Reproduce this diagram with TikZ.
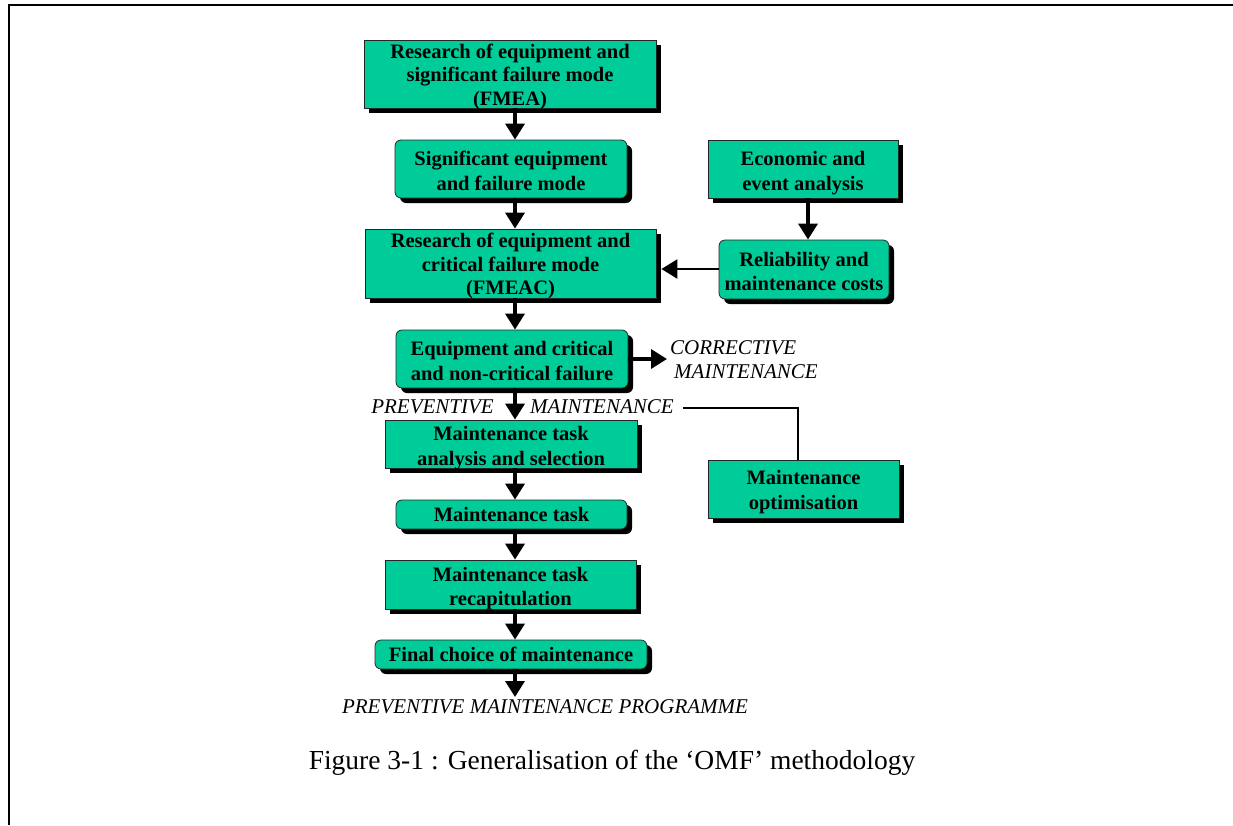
\documentclass[tikz,border=0pt]{standalone}
\usepackage{fontspec}
\setmainfont{Liberation Serif}
\usetikzlibrary{arrows.meta,shadows,calc}
\definecolor{boxgreen}{RGB}{0,204,153}
% centred block of lines, set slightly below the middle of its box
\newcommand\boxtext[2][9.1pt]{\raisebox{-#1}[0pt][0pt]{\begin{tabular}{@{}c@{}}#2\end{tabular}}}

\begin{document}
\begin{tikzpicture}[x=1pt,y=-1pt,
  box/.style={draw=black!85, line width=0.8pt, fill=boxgreen, inner sep=0pt,
     font=\fontsize{20.5}{24.5}\selectfont\bfseries,
     drop shadow={shadow xshift=5pt, shadow yshift=-5pt, fill=black, opacity=1}},
  rbox/.style={box, rounded corners=6pt},
  tribox/.style={box, font=\fontsize{20.5}{23.5}\selectfont\bfseries},
  arr/.style={line width=3.5pt, -{Triangle[width=19pt,length=16pt]}},
  lab/.style={font=\fontsize{21}{24}\selectfont\itshape, inner sep=0pt},
  conn/.style={line width=2.5pt},
  frameline/.style={line width=2pt}]
\useasboundingbox (0,0) rectangle (1233,825);

% page frame (top and left rules)
\draw[frameline] (1233,5) -- (9,5) -- (9,825);

% main chain
\node[tribox, minimum width=292pt, minimum height=68pt] (fmea)  at (510,74)     {\boxtext[8.3pt]{Research of equipment and\\significant failure mode\\(FMEA)}};
\node[rbox,   minimum width=232pt, minimum height=58pt] (sig)   at (511,169)    {\boxtext{Significant equipment\\and failure mode}};
\node[tribox, minimum width=291pt, minimum height=69pt] (fmeac) at (510.5,263.5) {\boxtext[8.3pt]{Research of equipment and\\critical failure mode\\(FMEAC)}};
\node[rbox,   minimum width=232pt, minimum height=58pt] (equip) at (512,359)    {\boxtext{Equipment and critical\\and non-critical failure}};
\node[box,    minimum width=252pt, minimum height=48pt] (mtas)  at (511,444)    {\boxtext{Maintenance task\\analysis and selection}};
\node[rbox,   minimum width=231pt, minimum height=29pt] (mt)    at (511.5,514.5) {\boxtext[7.5pt]{Maintenance task}};
\node[box,    minimum width=251pt, minimum height=49pt] (recap) at (510.5,584.5) {\boxtext{Maintenance task\\recapitulation}};
\node[rbox,   minimum width=272pt, minimum height=29pt] (final) at (511,654.5)  {\boxtext[7.5pt]{Final choice of maintenance}};

% side branch
\node[box,  minimum width=190pt, minimum height=58pt] (econ) at (803,169)    {\boxtext{Economic and\\event analysis}};
\node[rbox, minimum width=170pt, minimum height=59pt] (rel)  at (804,269.5)  {\boxtext{Reliability and\\maintenance costs}};
\node[box,  minimum width=191pt, minimum height=58pt] (opt)  at (803.5,489)  {\boxtext[8.5pt]{Maintenance\\optimisation}};

% italic labels
\node[lab, anchor=west, align=left] (corr) at (670,360) {CORRECTIVE\\\hspace{4pt}MAINTENANCE};
\node[lab, anchor=east] (prev)  at (494,407) {PREVENTIVE};
\node[lab, anchor=west] (prevm) at (530,407) {MAINTENANCE};
\node[lab] (prog) at (545,707) {PREVENTIVE MAINTENANCE PROGRAMME};

% caption
\node[font=\fontsize{27.5}{30}\selectfont, inner sep=0pt] (cap) at (612,763) {Figure 3-1 : Generalisation of the ‘OMF’ methodology};

% helper coordinates
\coordinate (spine) at (515,0);
\coordinate (espine) at (808,0);
\coordinate (relrow) at (0,269);
\coordinate (fmeacshadow) at ([xshift=5pt]fmeac.east);
\coordinate (progtop) at (515,697);
\coordinate (bend) at (798,408);

% connectors
\draw[arr] (fmea.south -| spine)  -- (sig.north -| spine);
\draw[arr] (sig.south -| spine)   -- (fmeac.north -| spine);
\draw[arr] (fmeac.south -| spine) -- (equip.north -| spine);
\draw[arr] (equip.south -| spine) -- (mtas.north -| spine);
\draw[arr] (mtas.south -| spine)  -- (mt.north -| spine);
\draw[arr] (mt.south -| spine)    -- (recap.north -| spine);
\draw[arr] (recap.south -| spine) -- (final.north -| spine);
\draw[arr] (final.south -| spine) -- (progtop);
\draw[arr] (econ.south -| espine) -- (rel.north -| espine);
\draw[arr, line width=2.5pt] (rel.west |- relrow) -- (fmeacshadow |- relrow);
\draw[arr, shorten >=3pt] (equip.east) -- (corr.west |- equip.east);
\draw[conn, shorten <=9pt] (prevm.east |- bend) -- (bend) -- (bend |- opt.north);
\end{tikzpicture}
\end{document}
